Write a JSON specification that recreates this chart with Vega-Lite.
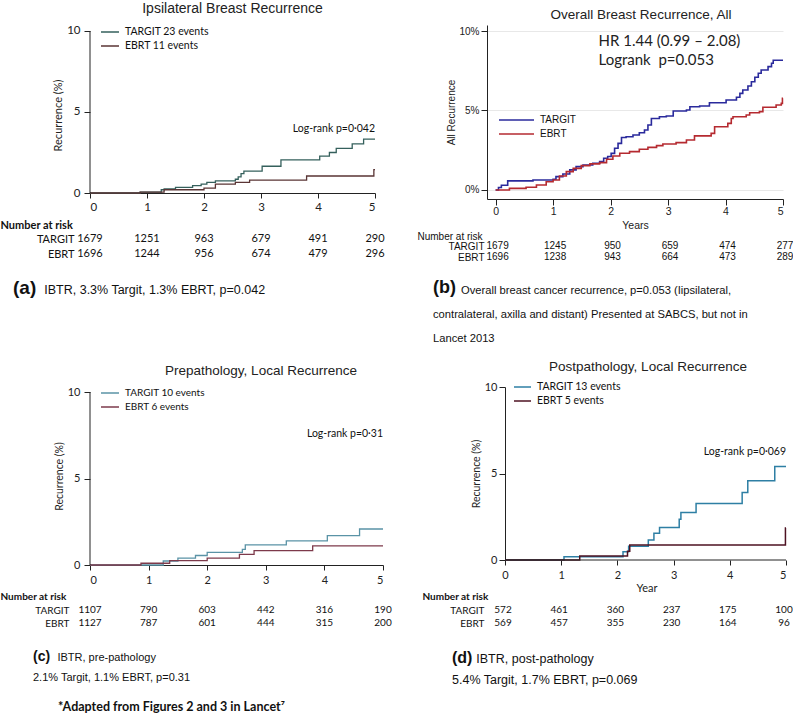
{
"$schema": "https://vega.github.io/schema/vega-lite/v6.json",
"padding": {"left": 0, "top": 2, "right": 2, "bottom": 2},
"background": "white",
"config": {
  "view": {"stroke": null},
  "axis": {"domainColor": "#222", "tickColor": "#222", "labelColor": "#222", "titleColor": "#222", "grid": false},
  "text": {"color": "#111"}
},
"datasets": {
 "km": [
  {"p":"a","g":"TARGIT","t":0,"r":0},{"p":"a","g":"TARGIT","t":0.88,"r":0.06},{"p":"a","g":"TARGIT","t":1.25,"r":0.2},{"p":"a","g":"TARGIT","t":1.3,"r":0.25},{"p":"a","g":"TARGIT","t":1.5,"r":0.35},{"p":"a","g":"TARGIT","t":1.8,"r":0.45},{"p":"a","g":"TARGIT","t":1.95,"r":0.55},{"p":"a","g":"TARGIT","t":2.05,"r":0.65},{"p":"a","g":"TARGIT","t":2.2,"r":0.75},{"p":"a","g":"TARGIT","t":2.55,"r":0.85},{"p":"a","g":"TARGIT","t":2.6,"r":1.0},{"p":"a","g":"TARGIT","t":2.65,"r":1.2},{"p":"a","g":"TARGIT","t":2.7,"r":1.35},{"p":"a","g":"TARGIT","t":3.02,"r":1.65},{"p":"a","g":"TARGIT","t":3.35,"r":2.05},{"p":"a","g":"TARGIT","t":4.03,"r":2.28},{"p":"a","g":"TARGIT","t":4.2,"r":2.5},{"p":"a","g":"TARGIT","t":4.32,"r":2.75},{"p":"a","g":"TARGIT","t":4.6,"r":3.03},{"p":"a","g":"TARGIT","t":4.8,"r":3.33},{"p":"a","g":"TARGIT","t":5.0,"r":3.33},
  {"p":"a","g":"EBRT","t":0,"r":0},{"p":"a","g":"EBRT","t":0.88,"r":0.05},{"p":"a","g":"EBRT","t":1.3,"r":0.2},{"p":"a","g":"EBRT","t":2.0,"r":0.3},{"p":"a","g":"EBRT","t":2.2,"r":0.55},{"p":"a","g":"EBRT","t":2.55,"r":0.65},{"p":"a","g":"EBRT","t":2.8,"r":0.8},{"p":"a","g":"EBRT","t":3.8,"r":1.05},{"p":"a","g":"EBRT","t":4.98,"r":1.44},{"p":"a","g":"EBRT","t":5.0,"r":1.44},
  {"p":"b","g":"TARGIT","t":0,"r":0},{"p":"b","g":"TARGIT","t":0.05,"r":0.15},{"p":"b","g":"TARGIT","t":0.1,"r":0.3},{"p":"b","g":"TARGIT","t":0.21,"r":0.57},{"p":"b","g":"TARGIT","t":0.65,"r":0.63},{"p":"b","g":"TARGIT","t":1.0,"r":0.67},{"p":"b","g":"TARGIT","t":1.05,"r":0.84},{"p":"b","g":"TARGIT","t":1.17,"r":1.0},{"p":"b","g":"TARGIT","t":1.29,"r":1.26},{"p":"b","g":"TARGIT","t":1.4,"r":1.47},{"p":"b","g":"TARGIT","t":1.52,"r":1.57},{"p":"b","g":"TARGIT","t":1.69,"r":1.68},{"p":"b","g":"TARGIT","t":1.81,"r":1.78},{"p":"b","g":"TARGIT","t":1.88,"r":1.99},{"p":"b","g":"TARGIT","t":1.95,"r":2.1},{"p":"b","g":"TARGIT","t":2.01,"r":2.3},{"p":"b","g":"TARGIT","t":2.07,"r":2.62},{"p":"b","g":"TARGIT","t":2.13,"r":2.93},{"p":"b","g":"TARGIT","t":2.19,"r":3.3},{"p":"b","g":"TARGIT","t":2.27,"r":3.35},{"p":"b","g":"TARGIT","t":2.39,"r":3.46},{"p":"b","g":"TARGIT","t":2.5,"r":3.6},{"p":"b","g":"TARGIT","t":2.59,"r":3.77},{"p":"b","g":"TARGIT","t":2.65,"r":4.09},{"p":"b","g":"TARGIT","t":2.71,"r":4.5},{"p":"b","g":"TARGIT","t":2.85,"r":4.61},{"p":"b","g":"TARGIT","t":2.97,"r":4.65},{"p":"b","g":"TARGIT","t":3.09,"r":4.97},{"p":"b","g":"TARGIT","t":3.32,"r":5.03},{"p":"b","g":"TARGIT","t":3.38,"r":5.24},{"p":"b","g":"TARGIT","t":3.55,"r":5.28},{"p":"b","g":"TARGIT","t":3.72,"r":5.49},{"p":"b","g":"TARGIT","t":4.01,"r":5.66},{"p":"b","g":"TARGIT","t":4.19,"r":5.83},{"p":"b","g":"TARGIT","t":4.25,"r":6.08},{"p":"b","g":"TARGIT","t":4.3,"r":6.29},{"p":"b","g":"TARGIT","t":4.39,"r":6.54},{"p":"b","g":"TARGIT","t":4.45,"r":6.81},{"p":"b","g":"TARGIT","t":4.51,"r":7.09},{"p":"b","g":"TARGIT","t":4.57,"r":7.34},{"p":"b","g":"TARGIT","t":4.62,"r":7.55},{"p":"b","g":"TARGIT","t":4.74,"r":7.76},{"p":"b","g":"TARGIT","t":4.8,"r":7.97},{"p":"b","g":"TARGIT","t":4.83,"r":8.16},{"p":"b","g":"TARGIT","t":5.0,"r":8.16},
  {"p":"b","g":"EBRT","t":0,"r":0},{"p":"b","g":"EBRT","t":0.24,"r":0.1},{"p":"b","g":"EBRT","t":0.53,"r":0.17},{"p":"b","g":"EBRT","t":0.71,"r":0.31},{"p":"b","g":"EBRT","t":0.88,"r":0.52},{"p":"b","g":"EBRT","t":1.0,"r":0.63},{"p":"b","g":"EBRT","t":1.11,"r":0.88},{"p":"b","g":"EBRT","t":1.23,"r":1.15},{"p":"b","g":"EBRT","t":1.35,"r":1.36},{"p":"b","g":"EBRT","t":1.49,"r":1.53},{"p":"b","g":"EBRT","t":1.64,"r":1.64},{"p":"b","g":"EBRT","t":1.81,"r":1.72},{"p":"b","g":"EBRT","t":1.93,"r":1.93},{"p":"b","g":"EBRT","t":2.04,"r":2.14},{"p":"b","g":"EBRT","t":2.16,"r":2.31},{"p":"b","g":"EBRT","t":2.33,"r":2.41},{"p":"b","g":"EBRT","t":2.5,"r":2.56},{"p":"b","g":"EBRT","t":2.65,"r":2.68},{"p":"b","g":"EBRT","t":2.8,"r":2.79},{"p":"b","g":"EBRT","t":2.91,"r":2.89},{"p":"b","g":"EBRT","t":3.14,"r":2.98},{"p":"b","g":"EBRT","t":3.32,"r":3.14},{"p":"b","g":"EBRT","t":3.46,"r":3.4},{"p":"b","g":"EBRT","t":3.75,"r":3.56},{"p":"b","g":"EBRT","t":3.81,"r":3.98},{"p":"b","g":"EBRT","t":4.04,"r":4.19},{"p":"b","g":"EBRT","t":4.1,"r":4.5},{"p":"b","g":"EBRT","t":4.13,"r":4.61},{"p":"b","g":"EBRT","t":4.36,"r":4.72},{"p":"b","g":"EBRT","t":4.42,"r":4.86},{"p":"b","g":"EBRT","t":4.59,"r":4.93},{"p":"b","g":"EBRT","t":4.65,"r":5.2},{"p":"b","g":"EBRT","t":4.88,"r":5.35},{"p":"b","g":"EBRT","t":4.97,"r":5.45},{"p":"b","g":"EBRT","t":4.99,"r":5.77},{"p":"b","g":"EBRT","t":5.0,"r":5.77},
  {"p":"c","g":"TARGIT","t":0,"r":0},{"p":"c","g":"TARGIT","t":1.25,"r":0.23},{"p":"c","g":"TARGIT","t":1.5,"r":0.4},{"p":"c","g":"TARGIT","t":1.8,"r":0.55},{"p":"c","g":"TARGIT","t":2.0,"r":0.73},{"p":"c","g":"TARGIT","t":2.6,"r":0.9},{"p":"c","g":"TARGIT","t":2.65,"r":1.16},{"p":"c","g":"TARGIT","t":3.35,"r":1.39},{"p":"c","g":"TARGIT","t":4.05,"r":1.7},{"p":"c","g":"TARGIT","t":4.6,"r":2.08},{"p":"c","g":"TARGIT","t":5.0,"r":2.08},
  {"p":"c","g":"EBRT","t":0,"r":0},{"p":"c","g":"EBRT","t":0.87,"r":0.1},{"p":"c","g":"EBRT","t":1.36,"r":0.25},{"p":"c","g":"EBRT","t":2.0,"r":0.4},{"p":"c","g":"EBRT","t":2.55,"r":0.62},{"p":"c","g":"EBRT","t":2.8,"r":0.83},{"p":"c","g":"EBRT","t":3.8,"r":1.1},{"p":"c","g":"EBRT","t":5.0,"r":1.1},
  {"p":"d","g":"TARGIT","t":0,"r":0},{"p":"d","g":"TARGIT","t":1.05,"r":0.19},{"p":"d","g":"TARGIT","t":2.1,"r":0.48},{"p":"d","g":"TARGIT","t":2.2,"r":0.8},{"p":"d","g":"TARGIT","t":2.55,"r":1.15},{"p":"d","g":"TARGIT","t":2.65,"r":1.54},{"p":"d","g":"TARGIT","t":2.75,"r":1.88},{"p":"d","g":"TARGIT","t":3.1,"r":2.35},{"p":"d","g":"TARGIT","t":3.13,"r":2.75},{"p":"d","g":"TARGIT","t":3.4,"r":3.27},{"p":"d","g":"TARGIT","t":4.22,"r":3.9},{"p":"d","g":"TARGIT","t":4.32,"r":4.58},{"p":"d","g":"TARGIT","t":4.8,"r":5.4},{"p":"d","g":"TARGIT","t":5.0,"r":5.4},
  {"p":"d","g":"EBRT","t":0,"r":0},{"p":"d","g":"EBRT","t":1.33,"r":0.23},{"p":"d","g":"EBRT","t":2.18,"r":0.5},{"p":"d","g":"EBRT","t":2.22,"r":0.87},{"p":"d","g":"EBRT","t":4.99,"r":1.85},{"p":"d","g":"EBRT","t":5.0,"r":1.85}
 ],
 "risk": [
  {"p":"a","g":"TARGIT","year":0,"n":1679},{"p":"a","g":"TARGIT","year":1,"n":1251},{"p":"a","g":"TARGIT","year":2,"n":963},{"p":"a","g":"TARGIT","year":3,"n":679},{"p":"a","g":"TARGIT","year":4,"n":491},{"p":"a","g":"TARGIT","year":5,"n":290},
  {"p":"a","g":"EBRT","year":0,"n":1696},{"p":"a","g":"EBRT","year":1,"n":1244},{"p":"a","g":"EBRT","year":2,"n":956},{"p":"a","g":"EBRT","year":3,"n":674},{"p":"a","g":"EBRT","year":4,"n":479},{"p":"a","g":"EBRT","year":5,"n":296},
  {"p":"b","g":"TARGIT","year":0,"n":1679},{"p":"b","g":"TARGIT","year":1,"n":1245},{"p":"b","g":"TARGIT","year":2,"n":950},{"p":"b","g":"TARGIT","year":3,"n":659},{"p":"b","g":"TARGIT","year":4,"n":474},{"p":"b","g":"TARGIT","year":5,"n":277},
  {"p":"b","g":"EBRT","year":0,"n":1696},{"p":"b","g":"EBRT","year":1,"n":1238},{"p":"b","g":"EBRT","year":2,"n":943},{"p":"b","g":"EBRT","year":3,"n":664},{"p":"b","g":"EBRT","year":4,"n":473},{"p":"b","g":"EBRT","year":5,"n":289},
  {"p":"c","g":"TARGIT","year":0,"n":1107},{"p":"c","g":"TARGIT","year":1,"n":790},{"p":"c","g":"TARGIT","year":2,"n":603},{"p":"c","g":"TARGIT","year":3,"n":442},{"p":"c","g":"TARGIT","year":4,"n":316},{"p":"c","g":"TARGIT","year":5,"n":190},
  {"p":"c","g":"EBRT","year":0,"n":1127},{"p":"c","g":"EBRT","year":1,"n":787},{"p":"c","g":"EBRT","year":2,"n":601},{"p":"c","g":"EBRT","year":3,"n":444},{"p":"c","g":"EBRT","year":4,"n":315},{"p":"c","g":"EBRT","year":5,"n":200},
  {"p":"d","g":"TARGIT","year":0,"n":572},{"p":"d","g":"TARGIT","year":1,"n":461},{"p":"d","g":"TARGIT","year":2,"n":360},{"p":"d","g":"TARGIT","year":3,"n":237},{"p":"d","g":"TARGIT","year":4,"n":175},{"p":"d","g":"TARGIT","year":5,"n":100},
  {"p":"d","g":"EBRT","year":0,"n":569},{"p":"d","g":"EBRT","year":1,"n":457},{"p":"d","g":"EBRT","year":2,"n":355},{"p":"d","g":"EBRT","year":3,"n":230},{"p":"d","g":"EBRT","year":4,"n":164},{"p":"d","g":"EBRT","year":5,"n":96}
 ]
},
"title": {"text": "*Adapted from Figures 2 and 3 in Lancet⁷", "orient": "bottom", "anchor": "start", "frame": "group", "dx": -32, "offset": 15, "font": "Lato", "fontSize": 12.5, "fontWeight": "bold", "color": "#111"},
"columns": 2,
"bounds": "flush",
"align": "each",
"spacing": {"row": 0, "column": 104},
"resolve": {"scale": {"color": "independent"}, "legend": {"color": "independent"}},
"concat": [
 {
  "width": 285, "height": 168,
  "title": {"text": "Ipsilateral Breast Recurrence", "font": "Liberation Sans", "fontSize": 14, "fontWeight": "normal", "color": "#222", "anchor": "middle", "frame": "group", "offset": 8.5},
  "layer": [
   {"data": {"name": "km"}, "transform": [{"filter": "datum.p == 'a'"}],
    "mark": {"type": "line", "interpolate": "step-after", "strokeWidth": 1.3},
    "encoding": {
     "x": {"field": "t", "type": "quantitative", "scale": {"domain": [0, 5], "nice": false, "zero": false},
       "axis": {"title": null, "values": [0,1,2,3,4,5], "format": "d", "tickSize": 5, "labelPadding": 3, "labelFont": "Lato", "labelFontSize": 11.5}},
     "y": {"field": "r", "type": "quantitative", "scale": {"domain": [0, 10.37], "nice": false, "zero": false},
       "axis": {"title": "Recurrence (%)", "values": [0,5,10], "format": "d", "domain": false, "tickSize": 6, "labelPadding": 4, "labelFont": "Lato", "labelFontSize": 11.5, "titleFont": "Lato", "titleFontSize": 11, "titleFontWeight": "normal", "titlePadding": 3, "titleY": 90}},
     "color": {"field": "g", "type": "nominal", "scale": {"domain": ["TARGIT", "EBRT"], "range": ["#35605c", "#5a3535"]},
       "legend": {"title": null, "orient": "none", "legendX": 10, "legendY": 0, "symbolType": "stroke", "symbolSize": 324, "symbolStrokeWidth": 1.3, "clipHeight": 14, "rowPadding": 0, "labelOffset": 5, "labelFont": "Lato", "labelFontSize": 10.5, "labelColor": "#111",
         "labelExpr": "datum.label == 'TARGIT' ? 'TARGIT 23 events' : 'EBRT 11 events'"}}
    }},
   {"data": {"values": [{}]}, "mark": {"type": "rule", "color": "#222", "strokeWidth": 1},
    "encoding": {"x": {"datum": 0}, "y": {"datum": 0}, "y2": {"datum": 10}}},
   {"data": {"values": [{"label": "Log-rank p=0·042"}]},
    "mark": {"type": "text", "align": "right", "baseline": "middle", "font": "Lato", "fontSize": 10.5, "color": "#111"},
    "encoding": {"x": {"datum": 5}, "y": {"datum": 3.97}, "text": {"field": "label"}}}
  ]
 },
 {
  "width": 296, "height": 174,
  "title": {"text": "Overall Breast Recurrence, All", "font": "Liberation Sans", "fontSize": 13.5, "fontWeight": "normal", "color": "#222", "anchor": "middle", "frame": "group", "dx": 6, "offset": 3.3},
  "layer": [
   {"data": {"name": "km"}, "transform": [{"filter": "datum.p == 'b'"}],
    "mark": {"type": "line", "interpolate": "step-after", "strokeWidth": 1.6},
    "encoding": {
     "x": {"field": "t", "type": "quantitative", "scale": {"domain": [-0.15, 5], "nice": false, "zero": false},
       "axis": {"title": "Years", "values": [0,1,2,3,4,5], "format": "d", "tickSize": 6, "labelPadding": 1, "labelFont": "Liberation Sans", "labelFontSize": 10.5, "titleFont": "Liberation Sans", "titleFontSize": 10.5, "titleFontWeight": "normal", "titlePadding": 3.5}},
     "y": {"field": "r", "type": "quantitative", "scale": {"domain": [-0.57, 10.38], "nice": false, "zero": false},
       "axis": {"title": "All Recurrence", "values": [0,5,10], "labelExpr": "datum.value + '%'", "tickSize": 6, "labelPadding": 2, "labelFont": "Liberation Sans", "labelFontSize": 10, "titleFont": "Liberation Sans", "titleFontSize": 10, "titleFontWeight": "normal", "titlePadding": 2, "grid": true, "gridColor": "#e8e8e8", "gridWidth": 1}},
     "color": {"field": "g", "type": "nominal", "scale": {"domain": ["TARGIT", "EBRT"], "range": ["#2a2a9c", "#b52a30"]},
       "legend": {"title": null, "orient": "none", "legendX": 11, "legendY": 88, "symbolType": "stroke", "symbolSize": 1225, "symbolStrokeWidth": 1.6, "clipHeight": 14, "rowPadding": 0, "labelOffset": 5, "labelFont": "Liberation Sans", "labelFontSize": 10, "labelColor": "#111"}}
    }},
   {"data": {"values": [{"label": "HR 1.44 (0.99 – 2.08)"}]},
    "mark": {"type": "text", "align": "left", "baseline": "middle", "font": "Lato", "fontSize": 15, "color": "#222"},
    "encoding": {"x": {"datum": 1.79}, "y": {"datum": 9.37}, "text": {"field": "label"}}},
   {"data": {"values": [{"label": "Logrank\u00a0 p=0.053"}]},
    "mark": {"type": "text", "align": "left", "baseline": "middle", "font": "Lato", "fontSize": 15, "color": "#222"},
    "encoding": {"x": {"datum": 1.79}, "y": {"datum": 8.18}, "text": {"field": "label"}}}
  ]
 },
 {
  "width": 285, "height": 188,
  "data": {"name": "risk"}, "transform": [{"filter": "datum.p == 'a'"}],
  "title": {"text": "(a)", "subtitle": "\u200b\u00a0\u00a0\u00a0\u00a0\u00a0\u00a0\u00a0\u00a0\u00a0IBTR, 3.3% Targit, 1.3% EBRT, p=0.042", "orient": "bottom", "anchor": "start", "frame": "group", "dx": -77, "offset": -108.2, "font": "Liberation Sans", "fontSize": 19, "fontWeight": "bold", "color": "#111", "subtitleFont": "Liberation Sans", "subtitleFontSize": 12.5, "subtitleColor": "#111", "subtitlePadding": -13.9},
  "mark": {"type": "text", "font": "Lato", "fontSize": 11, "color": "#111"},
  "encoding": {
   "x": {"field": "year", "type": "quantitative", "scale": {"domain": [0, 5], "nice": false, "zero": false}, "axis": null},
   "y": {"field": "g", "type": "nominal", "sort": ["TARGIT", "EBRT"], "scale": {"range": [40, 55], "padding": 0},
     "axis": {"title": "Number at risk", "titleAngle": 0, "titleAlign": "left", "titleBaseline": "middle", "titleX": -90, "titleY": 26, "titleFont": "Lato", "titleFontSize": 11, "titleFontWeight": "bold", "titleColor": "#111", "domain": false, "ticks": false, "tickSize": 0, "labelPadding": 16, "labelFont": "Lato", "labelFontSize": 11, "labelColor": "#111"}},
   "text": {"field": "n", "type": "nominal"}
  }
 },
 {
  "width": 296, "height": 188,
  "data": {"name": "risk"}, "transform": [{"filter": "datum.p == 'b'"}],
  "title": {"text": "(b)", "subtitle": ["\u200b\u00a0\u00a0\u00a0\u00a0\u00a0\u00a0\u00a0\u00a0\u00a0Overall breast cancer recurrence, p=0.053 (Iipsilateral,", "contralateral, axilla and distant) Presented at SABCS, but not in", "Lancet 2013"], "orient": "bottom", "anchor": "start", "frame": "group", "dx": -54, "offset": -107.8, "font": "Liberation Sans", "fontSize": 18, "fontWeight": "bold", "color": "#111", "subtitleFont": "Liberation Sans", "subtitleFontSize": 11.2, "subtitleColor": "#111", "subtitleLineHeight": 24, "subtitlePadding": -12.6},
  "mark": {"type": "text", "font": "Liberation Sans", "fontSize": 10, "color": "#111", "dx": 2},
  "encoding": {
   "x": {"field": "year", "type": "quantitative", "scale": {"domain": [-0.15, 5], "nice": false, "zero": false}, "axis": null},
   "y": {"field": "g", "type": "nominal", "sort": ["TARGIT", "EBRT"], "scale": {"range": [47, 58], "padding": 0},
     "axis": {"title": "Number at risk", "titleAngle": 0, "titleAlign": "left", "titleBaseline": "middle", "titleX": -70, "titleY": 37, "titleFont": "Liberation Sans", "titleFontSize": 10, "titleFontWeight": "normal", "titleColor": "#111", "domain": false, "ticks": false, "tickSize": 0, "labelPadding": 3, "labelFont": "Liberation Sans", "labelFontSize": 10, "labelColor": "#111"}},
   "text": {"field": "n", "type": "nominal"}
  }
 },
 {
  "width": 293, "height": 178,
  "title": {"text": "Prepathology, Local Recurrence", "font": "Liberation Sans", "fontSize": 13.5, "fontWeight": "normal", "color": "#222", "anchor": "middle", "frame": "group", "dx": 24.5, "offset": 8.3},
  "layer": [
   {"data": {"name": "km"}, "transform": [{"filter": "datum.p == 'c'"}],
    "mark": {"type": "line", "interpolate": "step-after", "strokeWidth": 1.3},
    "encoding": {
     "x": {"field": "t", "type": "quantitative", "scale": {"domain": [0, 5], "nice": false, "zero": false},
       "axis": {"title": null, "values": [0,1,2,3,4,5], "format": "d", "tickSize": 5, "labelPadding": 4, "labelFont": "Lato", "labelFontSize": 11}},
     "y": {"field": "r", "type": "quantitative", "scale": {"domain": [0, 10.29], "nice": false, "zero": false},
       "axis": {"title": "Recurrence (%)", "values": [0,5,10], "format": "d", "domain": false, "tickSize": 6, "labelPadding": 4, "labelFont": "Lato", "labelFontSize": 11, "titleFont": "Lato", "titleFontSize": 10.5, "titleFontWeight": "normal", "titlePadding": 3}},
     "color": {"field": "g", "type": "nominal", "scale": {"domain": ["TARGIT", "EBRT"], "range": ["#5a93a6", "#7d3a4b"]},
       "legend": {"title": null, "orient": "none", "legendX": 10, "legendY": -1, "symbolType": "stroke", "symbolSize": 324, "symbolStrokeWidth": 1.3, "clipHeight": 14, "rowPadding": 0, "labelOffset": 5, "labelFont": "Lato", "labelFontSize": 10, "labelColor": "#111",
         "labelExpr": "datum.label == 'TARGIT' ? 'TARGIT 10 events' : 'EBRT 6 events'"}}
    }},
   {"data": {"values": [{}]}, "mark": {"type": "rule", "color": "#222", "strokeWidth": 1},
    "encoding": {"x": {"datum": 0}, "y": {"datum": 0}, "y2": {"datum": 10}}},
   {"data": {"values": [{"label": "Log-rank p=0·31"}]},
    "mark": {"type": "text", "align": "right", "baseline": "middle", "font": "Lato", "fontSize": 10.5, "color": "#111"},
    "encoding": {"x": {"datum": 5}, "y": {"datum": 7.57}, "text": {"field": "label"}}}
  ]
 },
 {
  "width": 299, "height": 173,
  "title": {"text": "Postpathology, Local Recurrence", "font": "Liberation Sans", "fontSize": 13.5, "fontWeight": "normal", "color": "#222", "anchor": "middle", "frame": "group", "dx": 11.5, "offset": 6.3},
  "layer": [
   {"data": {"name": "km"}, "transform": [{"filter": "datum.p == 'd'"}],
    "mark": {"type": "line", "interpolate": "step-after", "strokeWidth": 1.5},
    "encoding": {
     "x": {"field": "t", "type": "quantitative", "scale": {"domain": [-0.32, 5], "nice": false, "zero": false},
       "axis": {"title": "Year", "values": [0,1,2,3,4,5], "format": "d", "domain": false, "tickSize": 5, "labelPadding": 4, "labelFont": "Lato", "labelFontSize": 11, "titleFont": "Lato", "titleFontSize": 11, "titleFontWeight": "normal", "titlePadding": 2, "titleX": 159.5}},
     "y": {"field": "r", "type": "quantitative", "scale": {"domain": [0, 10], "nice": false, "zero": false},
       "axis": {"title": "Recurrence (%)", "values": [0,5,10], "format": "d", "offset": -18, "tickSize": 6, "labelPadding": 2, "labelFont": "Lato", "labelFontSize": 11, "titleFont": "Lato", "titleFontSize": 10.5, "titleFontWeight": "normal", "titlePadding": 3}},
     "color": {"field": "g", "type": "nominal", "scale": {"domain": ["TARGIT", "EBRT"], "range": ["#2e7fa4", "#4e1222"]},
       "legend": {"title": null, "orient": "none", "legendX": 26, "legendY": -7, "symbolType": "stroke", "symbolSize": 289, "symbolStrokeWidth": 1.4, "clipHeight": 14, "rowPadding": 0, "labelOffset": 5, "labelFont": "Lato", "labelFontSize": 10.5, "labelColor": "#111",
         "labelExpr": "datum.label == 'TARGIT' ? 'TARGIT 13 events' : 'EBRT 5 events'"}}
    }},
   {"data": {"values": [{}]}, "mark": {"type": "rule", "color": "#222", "strokeWidth": 1},
    "encoding": {"y": {"datum": 0}, "x": {"datum": 0}, "x2": {"datum": 5}}},
   {"data": {"values": [{"label": "Log-rank p=0·069"}]},
    "mark": {"type": "text", "align": "right", "baseline": "middle", "font": "Lato", "fontSize": 10.5, "color": "#111"},
    "encoding": {"x": {"datum": 5}, "y": {"datum": 6.24}, "text": {"field": "label"}}}
  ]
 },
 {
  "width": 293, "height": 70,
  "data": {"name": "risk"}, "transform": [{"filter": "datum.p == 'c'"}],
  "title": {"text": "(c)", "subtitle": ["\u200b\u00a0\u00a0\u00a0\u00a0\u00a0\u00a0\u00a0\u00a0IBTR, pre-pathology", "2.1% Targit, 1.1% EBRT, p=0.31"], "orient": "bottom", "anchor": "start", "frame": "group", "dx": -57, "offset": 14.9, "font": "Liberation Sans", "fontSize": 14, "fontWeight": "bold", "color": "#111", "subtitleFont": "Liberation Sans", "subtitleFontSize": 11, "subtitleColor": "#111", "subtitleLineHeight": 20, "subtitlePadding": -11.6},
  "mark": {"type": "text", "font": "Lato", "fontSize": 10, "color": "#111"},
  "encoding": {
   "x": {"field": "year", "type": "quantitative", "scale": {"domain": [0, 5], "nice": false, "zero": false}, "axis": null},
   "y": {"field": "g", "type": "nominal", "sort": ["TARGIT", "EBRT"], "scale": {"range": [45, 58], "padding": 0},
     "axis": {"title": "Number at risk", "titleAngle": 0, "titleAlign": "left", "titleBaseline": "middle", "titleX": -90, "titleY": 31, "titleFont": "Lato", "titleFontSize": 10, "titleFontWeight": "bold", "titleColor": "#111", "domain": false, "ticks": false, "tickSize": 0, "labelPadding": 21, "labelFont": "Lato", "labelFontSize": 10, "labelColor": "#111"}},
   "text": {"field": "n", "type": "nominal"}
  }
 },
 {
  "width": 299, "height": 70,
  "data": {"name": "risk"}, "transform": [{"filter": "datum.p == 'd'"}],
  "title": {"text": "(d)", "subtitle": ["\u200b\u00a0\u00a0\u00a0\u00a0\u00a0\u00a0\u00a0IBTR, post-pathology", "5.4% Targit, 1.7% EBRT, p=0.069"], "orient": "bottom", "anchor": "start", "frame": "group", "dx": -35, "offset": 15, "font": "Liberation Sans", "fontSize": 16, "fontWeight": "bold", "color": "#111", "subtitleFont": "Liberation Sans", "subtitleFontSize": 12.5, "subtitleColor": "#111", "subtitleLineHeight": 21, "subtitlePadding": -13.2},
  "mark": {"type": "text", "font": "Lato", "fontSize": 10, "color": "#111", "dx": -2},
  "encoding": {
   "x": {"field": "year", "type": "quantitative", "scale": {"domain": [-0.32, 5], "nice": false, "zero": false}, "axis": null},
   "y": {"field": "g", "type": "nominal", "sort": ["TARGIT", "EBRT"], "scale": {"range": [45, 58], "padding": 0},
     "axis": {"title": "Number at risk", "titleAngle": 0, "titleAlign": "left", "titleBaseline": "middle", "titleX": -65, "titleY": 31, "titleFont": "Lato", "titleFontSize": 10, "titleFontWeight": "bold", "titleColor": "#111", "domain": false, "ticks": false, "tickSize": 0, "labelPadding": 3, "labelFont": "Lato", "labelFontSize": 10, "labelColor": "#111"}},
   "text": {"field": "n", "type": "nominal"}
  }
 }
]
}
